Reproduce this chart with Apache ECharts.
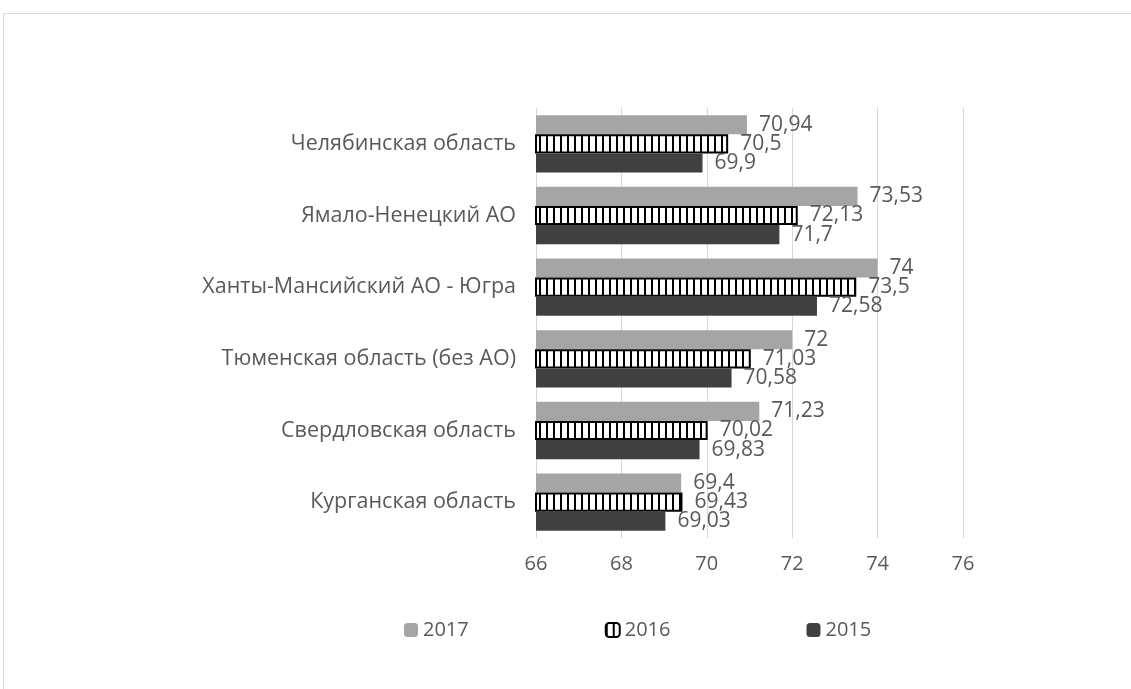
<!DOCTYPE html>
<html><head><meta charset="utf-8">
<script src="https://cdn.jsdelivr.net/npm/echarts@6/dist/echarts.min.js"></script>
<style>html,body{margin:0;padding:0;background:#fff}#c{width:1131px;height:689px}</style>
</head><body><div id="c"></div>
<script>
const categories = ['Курганская область','Свердловская область','Тюменская область (без АО)','Ханты-Мансийский АО - Югра','Ямало-Ненецкий АО','Челябинская область'];
const v2017 = [69.4, 71.23, 72, 74, 73.53, 70.94];
const v2016 = [69.43, 70.02, 71.03, 73.5, 72.13, 70.5];
const v2015 = [69.03, 69.83, 70.58, 72.58, 71.7, 69.9];
const xTicks = {min: 66, max: 76, interval: 2};

const cv = document.createElement('canvas');
cv.width = 7; cv.height = 10;
const cx = cv.getContext('2d');
cx.fillStyle = '#fff'; cx.fillRect(0,0,7,10);
cx.fillStyle = '#000'; cx.fillRect(0,0,2,10);
const stripe = {image: cv, repeat: 'repeat'};

const fontFam = '"Open Sans", "Noto Sans", sans-serif';
const fmt = p => String(p.value).replace('.', ',');
const lbl = {show: true, position: 'right', distance: 12, color: '#595959', fontSize: 21, fontFamily: fontFam, formatter: fmt};

const chart = echarts.init(document.getElementById('c'));
chart.setOption({
  animation: false,
  graphic: [{type: 'rect', shape: {x: 3.5, y: 13.5, width: 1140, height: 700}, style: {fill: 'none', stroke: '#d9d9d9', lineWidth: 1}}],
  grid: {left: 536, right: 168, top: 108, bottom: 151},
  legend: {
    bottom: 44, left: 399, itemGap: 136, itemWidth: 14, itemHeight: 14,
    data: ['2017', '2016', '2015'],
    textStyle: {color: '#595959', fontSize: 20, fontFamily: fontFam}
  },
  xAxis: {
    type: 'value', min: xTicks.min, max: xTicks.max, interval: xTicks.interval,
    axisLine: {show: false}, axisTick: {show: false},
    splitLine: {lineStyle: {color: '#d9d9d9', width: 1}},
    axisLabel: {color: '#595959', fontSize: 20, fontFamily: fontFam, margin: 16}
  },
  yAxis: {
    type: 'category', data: categories,
    axisLine: {show: false}, axisTick: {show: false},
    axisLabel: {color: '#595959', fontSize: 21.5, fontFamily: fontFam, margin: 20}
  },
  series: [
    {name: '2017', type: 'bar', data: v2017, barGap: '0%', barCategoryGap: '20%', itemStyle: {color: '#a5a5a5'}, label: lbl},
    {name: '2016', type: 'bar', data: v2016, barGap: '0%', barCategoryGap: '20%', itemStyle: {color: stripe, borderColor: '#000', borderWidth: 2}, label: lbl},
    {name: '2015', type: 'bar', data: v2015, barGap: '0%', barCategoryGap: '20%', itemStyle: {color: '#404040'}, label: lbl}
  ]
});
</script></body></html>
